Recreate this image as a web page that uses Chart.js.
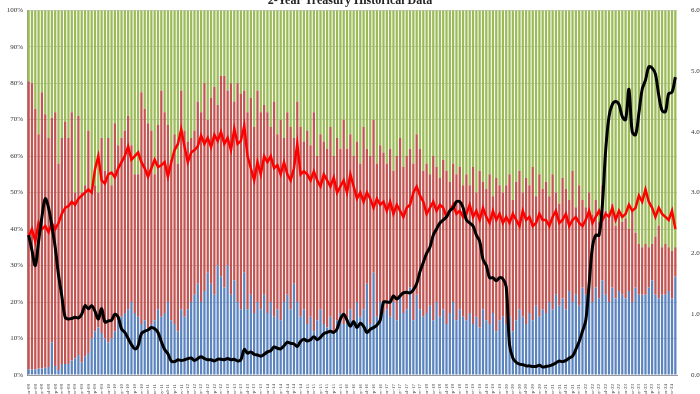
<!DOCTYPE html>
<html>
<head>
<meta charset="utf-8">
<script src="https://cdn.jsdelivr.net/npm/chart.js@4.4.1/dist/chart.umd.min.js"></script>
<style>
  html, body { margin: 0; padding: 0; background: #fff; }
  #wrap { width: 700px; height: 394px; }
</style>
</head>
<body>
<div id="wrap"><canvas id="chart" width="700" height="394"></canvas></div>
<script>
// months Jan-08 .. Apr-24
const monthNames = ["Jan", "Feb", "Mar", "Apr", "May", "Jun", "Jul", "Aug", "Sep", "Oct", "Nov", "Dec"];
const years = ["08", "09", "10", "11", "12", "13", "14", "15", "16", "17", "18", "19", "20", "21", "22", "23", "24"];
const lastYearMonths = 4;

const labels = [];
years.forEach(function(y, k) {
    const n = (k === years.length - 1) ? lastYearMonths : 12;
    for (let m = 0; m < n; m++) labels.push(monthNames[m] + "-" + y);
});

const leftTicks = [0, 10, 20, 30, 40, 50, 60, 70, 80, 90, 100];
const rightTicks = [0, 1, 2, 3, 4, 5, 6];

// Directs (% of auction)
const directs = [
    1.5, 1.5, 1.5, 1.8, 1.8, 2, 2.2, 9, 2.5, 1.4, 3, 3,
    3, 4, 4.5, 5.5, 3.5, 5, 6, 10, 12, 13, 11.5, 10,
    9, 10, 12, 15, 16, 17, 18, 20, 17, 16, 14, 15,
    12, 14, 15, 18, 16, 17, 20, 15, 14, 12, 18, 16,
    18, 20, 22, 25, 20, 23, 28, 25, 22, 30, 27, 24,
    30, 22, 26, 20, 18, 28, 18, 22, 17, 20, 18, 22,
    17, 20, 16, 18, 15, 20, 22, 18, 25, 20, 16, 18,
    14, 16, 12, 15, 18, 14, 13, 16, 12, 15, 17, 14,
    15, 18, 14, 20, 16, 18, 25, 14, 28, 16, 20, 17,
    18, 16, 20, 15, 22, 17, 18, 24, 15, 22, 18, 16,
    17, 19, 15, 20, 16, 18, 14, 17, 20, 15, 18, 16,
    15, 17, 14, 16, 13, 18, 15, 14, 17, 12, 15, 16,
    14, 16, 12, 15, 18, 16, 14, 17, 15, 19, 16, 18,
    17, 20, 18, 22, 19, 21, 18, 23, 20, 22, 19, 24,
    22, 25, 20, 24, 21, 26, 22, 20, 24, 21, 23, 22,
    21, 23, 20, 24, 22, 22, 22, 24, 26, 22, 21, 22,
    22, 23, 21, 27
];

// Indirects (% of auction)
const indirects = [
    79, 78.5, 71.5, 64.2, 75.7, 69.5, 62.8, 61.5, 69.5, 56.6, 62, 66.5,
    62, 68, 45.5, 65.5, 46.5, 47, 61, 40, 40, 37, 53.5, 46,
    56, 42, 57, 48, 49, 50, 53, 43, 38, 39, 63.5, 58,
    57, 53, 40, 50.5, 62, 55, 48.5, 44, 52, 46, 60, 51,
    46, 45, 45, 50, 52, 57, 42, 51, 57, 44, 55, 58,
    48, 58, 49, 60, 59, 50, 54, 54, 51, 58, 54, 52,
    55, 48, 59, 48, 55, 45, 50, 50, 40, 55, 52, 46,
    53, 47, 60, 45, 48, 50, 49, 52, 48, 50, 45, 56,
    47, 48, 46, 44, 42, 50, 37, 46, 42, 42, 43, 44,
    40, 46, 36, 45, 43, 40, 42, 38, 43, 44, 44, 40,
    41, 36, 45, 37, 38, 41, 42, 36, 38, 40, 39, 36,
    40, 35, 43, 34, 43, 35, 36, 41, 32, 42, 37, 34,
    38, 39, 36, 38, 38, 34, 40, 35, 42, 30, 39, 33,
    36, 29, 37, 28, 28, 33, 33, 25, 36, 24, 33, 24,
    24, 25, 24, 24, 21, 26, 23, 23, 23, 20, 21, 20,
    22, 17, 25, 15, 14, 13, 14, 11, 10, 16, 20, 13,
    14, 12, 13, 8
];

// Dealers (% of auction)
const dealers = [
    19.5, 20, 27, 34, 22.5, 28.5, 35, 29.5, 28, 42, 35, 30.5,
    35, 28, 50, 29, 50, 48, 33, 50, 48, 50, 35, 44,
    35, 48, 31, 37, 35, 33, 29, 37, 45, 45, 22.5, 27,
    31, 33, 45, 31.5, 22, 28, 31.5, 41, 34, 42, 22, 33,
    36, 35, 33, 25, 28, 20, 30, 24, 21, 26, 18, 18,
    22, 20, 25, 20, 23, 22, 28, 24, 32, 22, 28, 26,
    28, 32, 25, 34, 30, 35, 28, 32, 35, 25, 32, 36,
    33, 37, 28, 40, 34, 36, 38, 32, 40, 35, 38, 30,
    38, 34, 40, 36, 42, 32, 38, 40, 30, 42, 37, 39,
    42, 38, 44, 40, 35, 43, 40, 38, 42, 34, 38, 44,
    42, 45, 40, 43, 46, 41, 44, 47, 42, 45, 43, 48,
    45, 48, 43, 50, 44, 47, 49, 45, 51, 46, 48, 50,
    48, 45, 52, 47, 44, 50, 46, 48, 43, 51, 45, 49,
    47, 51, 45, 50, 53, 46, 49, 52, 44, 54, 48, 52,
    54, 50, 56, 52, 58, 48, 55, 57, 53, 59, 56, 58,
    57, 60, 55, 61, 64, 65, 64, 65, 64, 62, 59, 65,
    64, 65, 66, 65
];

// Bid to cover (right axis)
const bidToCover = [
    2.28, 2.4, 2.2, 2.5, 2.4, 2.45, 2.35, 2.5, 2.4, 2.5, 2.65, 2.75,
    2.78, 2.85, 2.8, 2.9, 2.95, 3.0, 3.05, 3.0, 3.38, 3.6, 3.2, 3.15,
    3.3, 3.33, 3.25, 3.4, 3.5, 3.6, 3.76, 3.54, 3.6, 3.66, 3.5, 3.4,
    3.26, 3.4, 3.54, 3.42, 3.45, 3.5, 3.26, 3.5, 3.7, 3.8, 4.04, 3.76,
    3.5, 3.66, 3.7, 3.76, 3.94, 3.8, 3.9, 3.75, 3.95, 3.85, 4.0, 3.8,
    3.9, 3.7, 4.05, 3.8, 3.85, 4.1, 3.6, 3.4, 3.2, 3.5, 3.3, 3.6,
    3.5, 3.6, 3.4, 3.45, 3.3, 3.5, 3.3, 3.2, 3.4, 3.8, 3.3, 3.35,
    3.3, 3.2, 3.35, 3.2, 3.1, 3.3, 3.2, 3.1, 3.25, 3.0, 3.1, 3.2,
    3.0, 3.3, 3.1, 2.9, 3.0, 2.85, 3.0, 2.9, 2.75, 2.9, 2.8, 2.85,
    2.7, 2.85, 2.65, 2.8, 2.7, 2.6, 2.75, 2.8, 3.0, 3.1, 2.95, 2.85,
    2.65, 2.75, 2.85, 2.7, 2.8, 2.75, 2.6, 2.7, 2.8, 2.65, 2.7, 2.6,
    2.65, 2.8, 2.6, 2.7, 2.55, 2.75, 2.6, 2.5, 2.7, 2.55, 2.65, 2.5,
    2.6, 2.5, 2.65, 2.55, 2.45, 2.7, 2.55, 2.6, 2.45, 2.5, 2.65, 2.55,
    2.55, 2.45, 2.6, 2.7, 2.5, 2.55, 2.65, 2.45, 2.55, 2.6, 2.5, 2.45,
    2.55, 2.7, 2.5, 2.6, 2.7, 2.55, 2.65, 2.6, 2.75, 2.55, 2.7, 2.6,
    2.65, 2.8, 2.7, 2.75, 2.95, 2.85, 3.05, 2.85, 2.75, 2.6, 2.75, 2.65,
    2.6, 2.55, 2.7, 2.4
];

// High yield (right axis)
const highYield = [
    2.3, 2.05, 1.8, 2.2, 2.6, 2.9, 2.75, 2.45, 2.1, 1.65, 1.3, 0.95,
    0.92, 0.93, 0.95, 0.94, 1.0, 1.14, 1.09, 1.14, 1.05, 0.92, 1.09, 0.87,
    0.89, 0.9, 1.0, 0.95, 0.76, 0.7, 0.6, 0.5, 0.43, 0.48, 0.68, 0.72,
    0.74, 0.78, 0.76, 0.7, 0.55, 0.42, 0.35, 0.23, 0.22, 0.25, 0.24, 0.25,
    0.27, 0.28, 0.24, 0.27, 0.3, 0.27, 0.25, 0.25, 0.23, 0.26, 0.26, 0.25,
    0.27, 0.25, 0.26, 0.23, 0.25, 0.42, 0.36, 0.38, 0.34, 0.33, 0.31, 0.34,
    0.38, 0.4, 0.46, 0.44, 0.43, 0.48, 0.54, 0.52, 0.51, 0.47, 0.55, 0.59,
    0.56, 0.58, 0.63, 0.58, 0.62, 0.68, 0.7, 0.72, 0.7, 0.76, 0.92, 1.0,
    0.9, 0.8, 0.88, 0.78, 0.85, 0.8, 0.7, 0.75, 0.78, 0.82, 0.9, 1.2,
    1.2, 1.2, 1.3, 1.25, 1.3, 1.35, 1.36, 1.35, 1.4, 1.5, 1.7, 1.85,
    2.0, 2.1, 2.3, 2.4, 2.5, 2.55, 2.6, 2.7, 2.75, 2.85, 2.85, 2.75,
    2.55, 2.5, 2.45, 2.3, 2.2, 1.9, 1.8, 1.6, 1.6, 1.55, 1.6, 1.58,
    1.45, 0.5, 0.28, 0.21, 0.18, 0.17, 0.15, 0.15, 0.14, 0.14, 0.16, 0.13,
    0.14, 0.15, 0.17, 0.2, 0.23, 0.22, 0.24, 0.28, 0.31, 0.42, 0.55, 0.72,
    0.9, 1.5, 2.1, 2.3, 2.3, 2.8, 3.7, 4.25, 4.45, 4.5, 4.45, 4.25,
    4.2, 4.7, 4.0, 3.95, 4.3, 4.7, 4.85, 5.07, 5.05, 4.95, 4.6, 4.35,
    4.33, 4.63, 4.65, 4.9
];

const chartTitle = "2-Year Treasury Historical Data";
const serif = "'Liberation Serif', 'Times New Roman', serif";

// title sits half cut at the very top, like the original image
const titlePlugin = {
    id: "cutTitle",
    afterDraw: function(chart) {
        const ctx = chart.ctx;
        ctx.save();
        ctx.font = "bold 12px " + serif;
        ctx.fillStyle = "#222";
        ctx.textAlign = "center";
        ctx.textBaseline = "alphabetic";
        ctx.fillText(chartTitle, 350, 4);
        ctx.restore();
    }
};

new Chart(document.getElementById("chart"), {
    type: "bar",
    data: {
        labels: labels,
        datasets: [
            {
                type: "line",
                label: "High Yield",
                data: highYield,
                yAxisID: "yR",
                borderColor: "#000000",
                borderWidth: 3,
                pointRadius: 0,
                tension: 0.35,
                order: 0
            },
            {
                type: "line",
                label: "Bid to Cover",
                data: bidToCover,
                yAxisID: "yR",
                borderColor: "#ff0000",
                borderWidth: 2.5,
                pointRadius: 0,
                tension: 0,
                order: 1
            },
            {
                label: "Directs",
                data: directs,
                yAxisID: "y",
                backgroundColor: "#5b84bf",
                barPercentage: 0.68,
                categoryPercentage: 1.0,
                order: 2
            },
            {
                label: "Indirects",
                data: indirects,
                yAxisID: "y",
                backgroundColor: "#c25452",
                barPercentage: 0.68,
                categoryPercentage: 1.0,
                order: 3
            },
            {
                label: "Dealers",
                data: dealers,
                yAxisID: "y",
                backgroundColor: "#9bbb59",
                barPercentage: 0.68,
                categoryPercentage: 1.0,
                order: 4
            }
        ]
    },
    options: {
        responsive: false,
        animation: false,
        layout: { padding: { top: 7, left: 0, right: 0, bottom: 0 } },
        plugins: {
            legend: { display: false },
            tooltip: { enabled: false }
        },
        scales: {
            x: {
                stacked: true,
                grid: { display: false },
                border: { color: "#999" },
                ticks: {
                    autoSkip: false,
                    maxRotation: 90,
                    minRotation: 90,
                    padding: 1,
                    color: "#444",
                    font: { family: serif, size: 5 },
                    callback: function(v, i) { return i % 2 === 0 ? labels[i] : ""; }
                },
                afterFit: function(scale) { scale.height = 19; }
            },
            y: {
                position: "left",
                stacked: true,
                min: 0,
                max: 100,
                afterBuildTicks: function(scale) {
                    scale.ticks = leftTicks.map(function(v) { return { value: v }; });
                },
                grid: { color: "rgba(120,120,120,0.45)", lineWidth: 0.8, drawTicks: false },
                border: { color: "#999" },
                ticks: {
                    padding: 4,
                    color: "#333",
                    font: { family: serif, size: 7 },
                    callback: function(v) { return v + "%"; }
                },
                afterFit: function(scale) { scale.width = 27; }
            },
            yR: {
                position: "right",
                stacked: false,
                min: 0,
                max: 6,
                afterBuildTicks: function(scale) {
                    scale.ticks = rightTicks.map(function(v) { return { value: v }; });
                },
                grid: { display: false },
                border: { display: false },
                ticks: {
                    padding: 6,
                    color: "#333",
                    font: { family: serif, size: 7 },
                    callback: function(v) { return v.toFixed(2); }
                },
                afterFit: function(scale) { scale.width = 23; }
            }
        }
    },
    plugins: [titlePlugin]
});
</script>
</body>
</html>
